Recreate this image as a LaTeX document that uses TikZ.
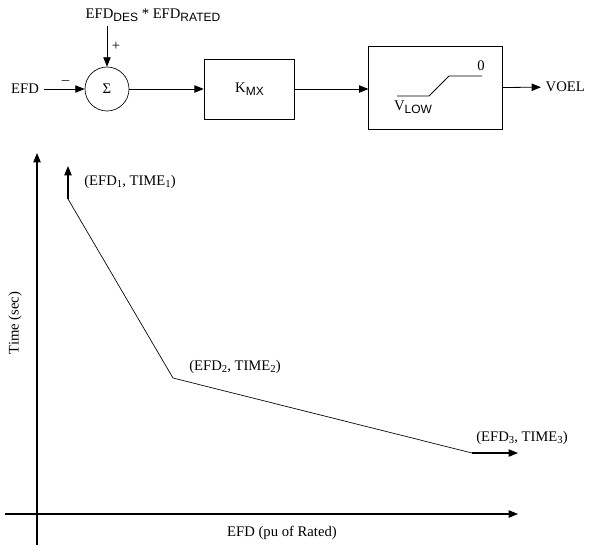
\documentclass[tikz,border=0pt]{standalone}
\usepackage{fontspec}
\setmainfont{Liberation Serif}
\setsansfont{Liberation Sans}
\usetikzlibrary{arrows.meta,positioning}
\tikzset {>={Triangle[length=7pt,width=5.5pt]}}
\newcommand{\lowsub}[1]{\raisebox{-.4ex}{\sffamily\fontsize{9}{10}\selectfont #1}}
\newcommand{\numsub}[1]{\raisebox{-.3ex}{\fontsize{8}{9}\selectfont #1}}

\begin{document}
\begin{tikzpicture}[x=.75pt,y=-.75pt,font=\fontsize{11}{13}\selectfont,
  block/.style={draw,line width=.6pt,minimum width=68pt,minimum height=45pt},
  sig/.style={->,line width=.6pt}]
\useasboundingbox (0,0) rectangle (591,554);
% block diagram
\node (efd) at (25,89) {EFD};
\node[draw,circle,minimum size=33pt,inner sep=0pt,line width=.5pt]
  (sum) at (107,89) {Σ};
\node (ref) at (153,15) {EFD\lowsub{DES} * EFD\lowsub{RATED}};
\node[block] (kmx) at (249.5,89) {K\lowsub{MX}};
\node[block,minimum width=100pt,minimum height=62pt] (lim) at (435.5,88) {};
\node[right] (voel) at (541,87) {VOEL};
\draw[sig] (efd) -- node[above,xshift=1pt] {–} (sum);
\draw[sig] (sum |- ref.south) -- node[right,pos=.5] {+} (sum);
\draw[sig] (sum) -- (kmx);
\draw[sig] (kmx) -- (kmx -| lim.west);
\draw[sig] (lim) -- (voel);
% limiter
\draw[line width=.6pt] (397,96) -- (429,96) -- (449,76) -- (482,76);
\node (zero) at (481,66) {0};
\node (vlow) at (413,107) {V\lowsub{LOW}};
% time curve
\draw[->,line width=.9pt] (37,545) -- (37,153);
\draw[->,line width=.9pt] (5,514) -- (518,514);
\node[rotate=90] (ylab) at (15,323) {Time (sec)};
\node (xlab) at (282,533) {EFD (pu of Rated)};
\coordinate (p1) at (68,199);
\coordinate (p2) at (173,378);
\coordinate (p3) at (472,453);
\draw[line width=.5pt] (p1) -- (p2) -- (p3);
\draw[->,line width=.8pt] (p1) -- ++(0,-33);
\draw[->,line width=.8pt] (p3) -- ++(46,0);
\node (l1) at (130,182) {(EFD\numsub{1}, TIME\numsub{1})};
\node (l2) at (235,367) {(EFD\numsub{2}, TIME\numsub{2})};
\node (l3) at (522,438) {(EFD\numsub{3}, TIME\numsub{3})};
\end{tikzpicture}
\end{document}
